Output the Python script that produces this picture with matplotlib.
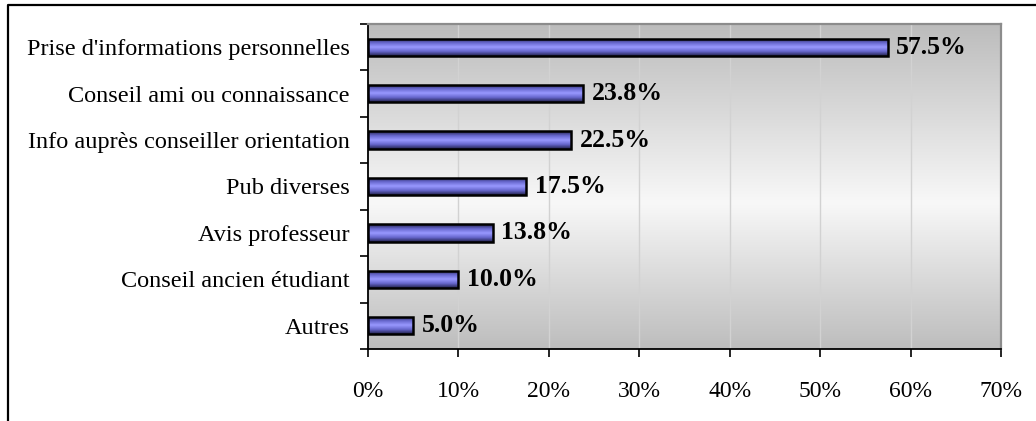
import numpy as np
import matplotlib
matplotlib.use("Agg")
import matplotlib.pyplot as plt
from matplotlib.colors import LinearSegmentedColormap
from matplotlib.lines import Line2D
from matplotlib.ticker import FixedLocator, FuncFormatter

categories = [
    "Prise d'informations personnelles",
    "Conseil ami ou connaissance",
    "Info auprès conseiller orientation",
    "Pub diverses",
    "Avis professeur",
    "Conseil ancien étudiant",
    "Autres",
]
values = [57.5, 23.8, 22.5, 17.5, 13.8, 10.0, 5.0]
x_ticks = [0, 10, 20, 30, 40, 50, 60, 70]

plt.rcParams["font.family"] = ["Liberation Serif", "DejaVu Serif"]

W, H = 1036, 421
fig = plt.figure(figsize=(W / 100, H / 100), dpi=100)
fig.patch.set_facecolor("white")

# plot area in pixel coordinates
left, right, top, bottom = 368, 1001, 24, 349
ax = fig.add_axes([left / W, (H - bottom) / H, (right - left) / W, (bottom - top) / H])

n = len(categories)
ax.set_xlim(0, 70)
ax.set_ylim(n - 0.5, -0.5)

# background: gray -> white -> gray vertical gradient
bg_cmap = LinearSegmentedColormap.from_list(
    "bg", [(0.0, "#bcbcbc"), (0.55, "#f8f8f8"), (1.0, "#bdbdbd")])
grad = np.linspace(0, 1, 256).reshape(-1, 1)
ax.imshow(grad, cmap=bg_cmap, aspect="auto", extent=(0, 70, n - 0.5, -0.5),
          zorder=0, interpolation="bilinear")

# gridlines
for t in x_ticks[1:-1]:
    ax.axvline(t, color="#d2d2d2", lw=1.0, zorder=1)

# bars
y = np.arange(n)
bars = ax.barh(y, values, height=0.37, facecolor="none", edgecolor="black",
               linewidth=1.8, zorder=3)

bar_cmap = LinearSegmentedColormap.from_list(
    "bar", [(0.0, "#22224a"), (0.25, "#6666cc"), (0.5, "#9999ff"),
            (0.75, "#6666cc"), (1.0, "#22224a")])
bar_grad = np.linspace(0, 1, 64).reshape(-1, 1)
for rect in bars:
    x0, y0 = rect.get_x(), rect.get_y()
    w, h = rect.get_width(), rect.get_height()
    im = ax.imshow(bar_grad, cmap=bar_cmap, aspect="auto",
                   extent=(x0, x0 + w, y0 + h, y0), zorder=2,
                   interpolation="bilinear")
    im.set_clip_path(rect)

# value labels
for yi, v in zip(y, values):
    ax.annotate(f"{v:.1f}%", xy=(v, yi), xytext=(6, 0), textcoords="offset points",
                ha="left", va="center", fontsize=18.5, fontweight="bold", color="black",
                zorder=4)

ax.set_xlim(0, 70)
ax.set_ylim(n - 0.5, -0.5)

# axes styling
for s in ("left", "bottom"):
    ax.spines[s].set_color("black")
    ax.spines[s].set_linewidth(1.3)
for s in ("top", "right"):
    ax.spines[s].set_color("#8c8c8c")
    ax.spines[s].set_linewidth(1.6)

ax.xaxis.set_major_locator(FixedLocator(x_ticks))
ax.xaxis.set_major_formatter(FuncFormatter(lambda v, p: f"{v:.0f}%"))
ax.tick_params(axis="x", direction="out", length=6, width=1.2, pad=17,
               labelsize=17, colors="black")

ax.set_yticks(y)
ax.set_yticklabels(categories)
ax.yaxis.set_minor_locator(FixedLocator(np.arange(-0.5, n, 1.0)))
ax.tick_params(axis="y", which="major", length=0, pad=13, labelsize=17.5)
ax.tick_params(axis="y", which="minor", direction="out", length=6, width=1.2)

# outer chart frame (left and top edges)
fig.add_artist(Line2D([8 / W, 8 / W, 1.0], [0.0, 1 - 5 / H, 1 - 5 / H],
                      transform=fig.transFigure, color="black", lw=1.6))

fig.savefig("out.png", dpi=100)
